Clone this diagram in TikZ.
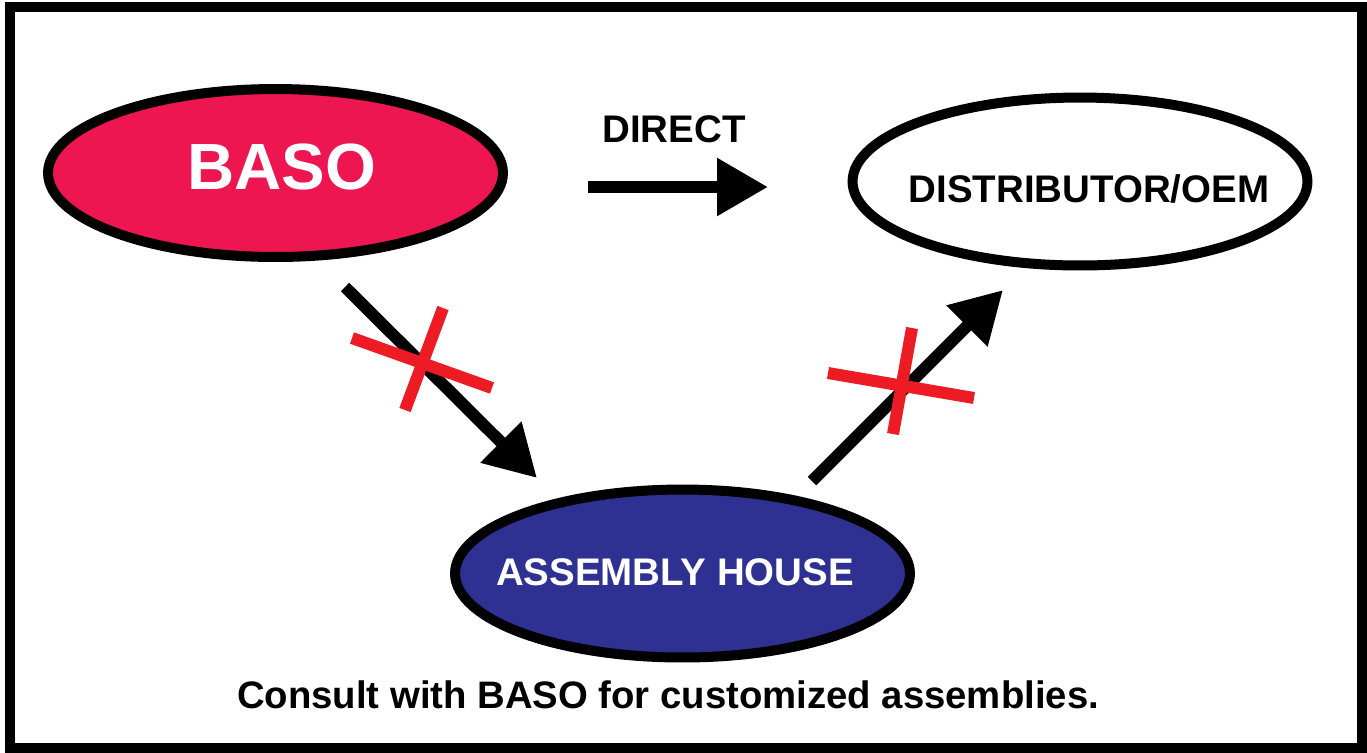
\documentclass[tikz,border=0pt]{standalone}
\usepackage{fontspec}
\setmainfont{Liberation Sans}
\usetikzlibrary{shapes.geometric, arrows.meta, positioning}

\definecolor{basored}{HTML}{EE1651}
\definecolor{houseblue}{HTML}{2E3192}
\definecolor{crossred}{HTML}{ED1C24}

\begin{document}
\begin{tikzpicture}[x=0.02cm, y=-0.02cm,
    party/.style={ellipse, draw=black, line width=0.2cm, minimum width=9.1cm, minimum height=3.36cm, inner sep=0pt},
    partytext/.style={anchor=base, font=\bfseries\fontsize{21.9}{26}\selectfont},
    bigarrow/.style={line width=0.24cm, -{Triangle[length=1.02cm, width=1.1cm]}},
    cross/.style={draw=crossred, line width=0.24cm}]
    \useasboundingbox (0,0) rectangle (1367,752);
    \draw[line width=0.2cm] (10,7) rectangle (1362,748);
    % the three parties
    \node[party, fill=basored] (BASO) at (275.5,173) {};
    \node[party, fill=white] (DIST) at (1080,181.5) {};
    \node[party, fill=houseblue] (HOUSE) at (682.5,573.5) {};
    \node[partytext, text=white, font=\bfseries\fontsize{37.2}{44}\selectfont] (BASOtext) at (282,189) {BASO};
    \node[partytext] (DISTtext) at (1089,202) {DISTRIBUTOR/OEM};
    \node[partytext, text=white] (HOUSEtext) at (675,585) {ASSEMBLY HOUSE};
    % arrows
    \coordinate (D1) at (588,187);
    \coordinate (D2) at (768,187);
    \coordinate (B1) at (345,287);
    \coordinate (B2) at (537,478);
    \coordinate (H1) at (812,481);
    \coordinate (H2) at (1003,290);
    \draw[bigarrow] (D1) -- (D2);
    \draw[bigarrow] (B1) -- (B2);
    \draw[bigarrow] (H1) -- (H2);
    \node[partytext] (DIRECT) at (674,142) {DIRECT};
    % crossed out routes
    \coordinate (X1a) at (352,338);
    \coordinate (X1b) at (492,388);
    \coordinate (X1c) at (443,308);
    \coordinate (X1d) at (405,410);
    \coordinate (X2a) at (828,373);
    \coordinate (X2b) at (974,398);
    \coordinate (X2c) at (912,328);
    \coordinate (X2d) at (893,434);
    \draw[cross] (X1a) -- (X1b);
    \draw[cross] (X1c) -- (X1d);
    \draw[cross] (X2a) -- (X2b);
    \draw[cross] (X2c) -- (X2d);
    \node[anchor=base, font=\bfseries\fontsize{21.8}{26}\selectfont] (NOTE) at (668,708) {Consult with BASO for customized assemblies.};
\end{tikzpicture}
\end{document}
